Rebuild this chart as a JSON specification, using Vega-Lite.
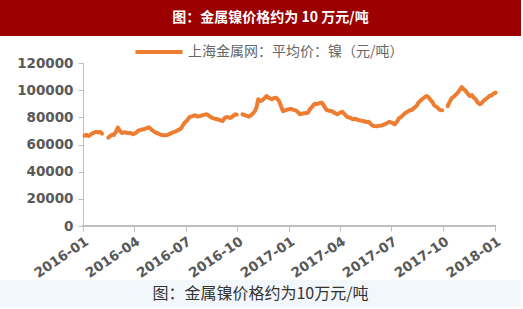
{
  "$schema": "https://vega.github.io/schema/vega-lite/v6.json",
  "background": "white",
  "padding": 0,
  "spacing": 0,
  "resolve": {"legend": {"color": "independent"}, "scale": {"color": "independent"}},
  "config": {"view": {"stroke": null}},
  "vconcat": [
    {
      "width": 521,
      "height": 36,
      "view": {"fill": "#9c0000", "stroke": null},
      "data": {"values": [{"t": "图：金属镍价格约为 10 万元/吨"}]},
      "mark": {"type": "text", "color": "white", "fontSize": 14, "fontWeight": "bold", "font": "Noto Sans CJK SC", "align": "center", "baseline": "middle", "dx": 10},
      "encoding": {"text": {"field": "t"}}
    },
    {
      "width": 521,
      "height": 163,
      "data": {"values": [
        {"date": "2016-01-04", "price": 66500, "seg": 1},
        {"date": "2016-01-07", "price": 67200, "seg": 1},
        {"date": "2016-01-11", "price": 66300, "seg": 1},
        {"date": "2016-01-14", "price": 67000, "seg": 1},
        {"date": "2016-01-18", "price": 68200, "seg": 1},
        {"date": "2016-01-21", "price": 68800, "seg": 1},
        {"date": "2016-01-25", "price": 69400, "seg": 1},
        {"date": "2016-01-28", "price": 68900, "seg": 1},
        {"date": "2016-02-01", "price": 69200, "seg": 1},
        {"date": "2016-02-04", "price": 68000, "seg": 1},
        {"date": "2016-02-15", "price": 65000, "seg": 2},
        {"date": "2016-02-18", "price": 66200, "seg": 2},
        {"date": "2016-02-22", "price": 67300, "seg": 2},
        {"date": "2016-02-25", "price": 67000, "seg": 2},
        {"date": "2016-02-29", "price": 69800, "seg": 2},
        {"date": "2016-03-03", "price": 72400, "seg": 2},
        {"date": "2016-03-07", "price": 69800, "seg": 2},
        {"date": "2016-03-10", "price": 68500, "seg": 2},
        {"date": "2016-03-15", "price": 69000, "seg": 2},
        {"date": "2016-03-18", "price": 68700, "seg": 2},
        {"date": "2016-03-22", "price": 68200, "seg": 2},
        {"date": "2016-03-25", "price": 68600, "seg": 2},
        {"date": "2016-03-30", "price": 67500, "seg": 2},
        {"date": "2016-04-05", "price": 68800, "seg": 2},
        {"date": "2016-04-08", "price": 70200, "seg": 2},
        {"date": "2016-04-13", "price": 70800, "seg": 2},
        {"date": "2016-04-18", "price": 71200, "seg": 2},
        {"date": "2016-04-22", "price": 71800, "seg": 2},
        {"date": "2016-04-27", "price": 72600, "seg": 2},
        {"date": "2016-04-29", "price": 72000, "seg": 2},
        {"date": "2016-05-04", "price": 70200, "seg": 2},
        {"date": "2016-05-09", "price": 68800, "seg": 2},
        {"date": "2016-05-13", "price": 68200, "seg": 2},
        {"date": "2016-05-18", "price": 67200, "seg": 2},
        {"date": "2016-05-24", "price": 66800, "seg": 2},
        {"date": "2016-05-30", "price": 67000, "seg": 2},
        {"date": "2016-06-03", "price": 67800, "seg": 2},
        {"date": "2016-06-08", "price": 68700, "seg": 2},
        {"date": "2016-06-13", "price": 69600, "seg": 2},
        {"date": "2016-06-17", "price": 70400, "seg": 2},
        {"date": "2016-06-22", "price": 71500, "seg": 2},
        {"date": "2016-06-24", "price": 72400, "seg": 2},
        {"date": "2016-06-29", "price": 75800, "seg": 2},
        {"date": "2016-07-04", "price": 77800, "seg": 2},
        {"date": "2016-07-08", "price": 80200, "seg": 2},
        {"date": "2016-07-13", "price": 80800, "seg": 2},
        {"date": "2016-07-18", "price": 81600, "seg": 2},
        {"date": "2016-07-22", "price": 80600, "seg": 2},
        {"date": "2016-07-28", "price": 81000, "seg": 2},
        {"date": "2016-08-02", "price": 81800, "seg": 2},
        {"date": "2016-08-08", "price": 82200, "seg": 2},
        {"date": "2016-08-12", "price": 81000, "seg": 2},
        {"date": "2016-08-17", "price": 79600, "seg": 2},
        {"date": "2016-08-22", "price": 79000, "seg": 2},
        {"date": "2016-08-26", "price": 78600, "seg": 2},
        {"date": "2016-08-31", "price": 78000, "seg": 2},
        {"date": "2016-09-05", "price": 77300, "seg": 2},
        {"date": "2016-09-09", "price": 79800, "seg": 2},
        {"date": "2016-09-13", "price": 80200, "seg": 2},
        {"date": "2016-09-18", "price": 79600, "seg": 2},
        {"date": "2016-09-22", "price": 80500, "seg": 2},
        {"date": "2016-09-27", "price": 82200, "seg": 2},
        {"date": "2016-09-30", "price": 82000, "seg": 2},
        {"date": "2016-10-10", "price": 82200, "seg": 3},
        {"date": "2016-10-14", "price": 81600, "seg": 3},
        {"date": "2016-10-18", "price": 81000, "seg": 3},
        {"date": "2016-10-21", "price": 80500, "seg": 3},
        {"date": "2016-10-25", "price": 81500, "seg": 3},
        {"date": "2016-10-28", "price": 82600, "seg": 3},
        {"date": "2016-11-01", "price": 84500, "seg": 3},
        {"date": "2016-11-04", "price": 87500, "seg": 3},
        {"date": "2016-11-07", "price": 93300, "seg": 3},
        {"date": "2016-11-10", "price": 92000, "seg": 3},
        {"date": "2016-11-14", "price": 92500, "seg": 3},
        {"date": "2016-11-18", "price": 94000, "seg": 3},
        {"date": "2016-11-22", "price": 95700, "seg": 3},
        {"date": "2016-11-25", "price": 94500, "seg": 3},
        {"date": "2016-11-29", "price": 93800, "seg": 3},
        {"date": "2016-12-01", "price": 93300, "seg": 3},
        {"date": "2016-12-05", "price": 94200, "seg": 3},
        {"date": "2016-12-09", "price": 94400, "seg": 3},
        {"date": "2016-12-13", "price": 92500, "seg": 3},
        {"date": "2016-12-15", "price": 90800, "seg": 3},
        {"date": "2016-12-19", "price": 86500, "seg": 3},
        {"date": "2016-12-21", "price": 84600, "seg": 3},
        {"date": "2016-12-26", "price": 85300, "seg": 3},
        {"date": "2016-12-30", "price": 85900, "seg": 3},
        {"date": "2017-01-04", "price": 86200, "seg": 3},
        {"date": "2017-01-09", "price": 85500, "seg": 3},
        {"date": "2017-01-13", "price": 85000, "seg": 3},
        {"date": "2017-01-17", "price": 83600, "seg": 3},
        {"date": "2017-01-20", "price": 82200, "seg": 3},
        {"date": "2017-01-25", "price": 82800, "seg": 3},
        {"date": "2017-02-03", "price": 83400, "seg": 3},
        {"date": "2017-02-07", "price": 86200, "seg": 3},
        {"date": "2017-02-10", "price": 87500, "seg": 3},
        {"date": "2017-02-15", "price": 90000, "seg": 3},
        {"date": "2017-02-20", "price": 89800, "seg": 3},
        {"date": "2017-02-24", "price": 90600, "seg": 3},
        {"date": "2017-02-28", "price": 90800, "seg": 3},
        {"date": "2017-03-03", "price": 88800, "seg": 3},
        {"date": "2017-03-08", "price": 85500, "seg": 3},
        {"date": "2017-03-13", "price": 84800, "seg": 3},
        {"date": "2017-03-17", "price": 84600, "seg": 3},
        {"date": "2017-03-22", "price": 83400, "seg": 3},
        {"date": "2017-03-27", "price": 82200, "seg": 3},
        {"date": "2017-03-31", "price": 83200, "seg": 3},
        {"date": "2017-04-05", "price": 84100, "seg": 3},
        {"date": "2017-04-10", "price": 82000, "seg": 3},
        {"date": "2017-04-14", "price": 80200, "seg": 3},
        {"date": "2017-04-19", "price": 79700, "seg": 3},
        {"date": "2017-04-24", "price": 78500, "seg": 3},
        {"date": "2017-04-28", "price": 79000, "seg": 3},
        {"date": "2017-05-03", "price": 78000, "seg": 3},
        {"date": "2017-05-08", "price": 77600, "seg": 3},
        {"date": "2017-05-12", "price": 77300, "seg": 3},
        {"date": "2017-05-17", "price": 76600, "seg": 3},
        {"date": "2017-05-22", "price": 76800, "seg": 3},
        {"date": "2017-05-26", "price": 74800, "seg": 3},
        {"date": "2017-05-31", "price": 73600, "seg": 3},
        {"date": "2017-06-05", "price": 73400, "seg": 3},
        {"date": "2017-06-09", "price": 73700, "seg": 3},
        {"date": "2017-06-14", "price": 74000, "seg": 3},
        {"date": "2017-06-19", "price": 74800, "seg": 3},
        {"date": "2017-06-23", "price": 75600, "seg": 3},
        {"date": "2017-06-28", "price": 76800, "seg": 3},
        {"date": "2017-07-03", "price": 75800, "seg": 3},
        {"date": "2017-07-07", "price": 74800, "seg": 3},
        {"date": "2017-07-11", "price": 76800, "seg": 3},
        {"date": "2017-07-14", "price": 79000, "seg": 3},
        {"date": "2017-07-19", "price": 80500, "seg": 3},
        {"date": "2017-07-24", "price": 82600, "seg": 3},
        {"date": "2017-07-28", "price": 83800, "seg": 3},
        {"date": "2017-08-02", "price": 85000, "seg": 3},
        {"date": "2017-08-07", "price": 85600, "seg": 3},
        {"date": "2017-08-11", "price": 87200, "seg": 3},
        {"date": "2017-08-15", "price": 88500, "seg": 3},
        {"date": "2017-08-18", "price": 90800, "seg": 3},
        {"date": "2017-08-23", "price": 92800, "seg": 3},
        {"date": "2017-08-28", "price": 94400, "seg": 3},
        {"date": "2017-09-01", "price": 95700, "seg": 3},
        {"date": "2017-09-05", "price": 94800, "seg": 3},
        {"date": "2017-09-08", "price": 93000, "seg": 3},
        {"date": "2017-09-12", "price": 91200, "seg": 3},
        {"date": "2017-09-15", "price": 88800, "seg": 3},
        {"date": "2017-09-20", "price": 87500, "seg": 3},
        {"date": "2017-09-25", "price": 85500, "seg": 3},
        {"date": "2017-09-29", "price": 85200, "seg": 3},
        {"date": "2017-10-09", "price": 88300, "seg": 4},
        {"date": "2017-10-12", "price": 91000, "seg": 4},
        {"date": "2017-10-16", "price": 94000, "seg": 4},
        {"date": "2017-10-20", "price": 95400, "seg": 4},
        {"date": "2017-10-24", "price": 96900, "seg": 4},
        {"date": "2017-10-27", "price": 98200, "seg": 4},
        {"date": "2017-10-31", "price": 100600, "seg": 4},
        {"date": "2017-11-03", "price": 102300, "seg": 4},
        {"date": "2017-11-07", "price": 100500, "seg": 4},
        {"date": "2017-11-10", "price": 99400, "seg": 4},
        {"date": "2017-11-14", "price": 97200, "seg": 4},
        {"date": "2017-11-17", "price": 95700, "seg": 4},
        {"date": "2017-11-21", "price": 96400, "seg": 4},
        {"date": "2017-11-24", "price": 94600, "seg": 4},
        {"date": "2017-11-28", "price": 93200, "seg": 4},
        {"date": "2017-12-01", "price": 91000, "seg": 4},
        {"date": "2017-12-05", "price": 89600, "seg": 4},
        {"date": "2017-12-08", "price": 90400, "seg": 4},
        {"date": "2017-12-12", "price": 92300, "seg": 4},
        {"date": "2017-12-15", "price": 93300, "seg": 4},
        {"date": "2017-12-19", "price": 94600, "seg": 4},
        {"date": "2017-12-22", "price": 95700, "seg": 4},
        {"date": "2017-12-27", "price": 96400, "seg": 4},
        {"date": "2017-12-29", "price": 97500, "seg": 4},
        {"date": "2018-01-02", "price": 98100, "seg": 4}
      ]},
      "transform": [{"calculate": "'上海金属网：平均价：镍（元/吨）'", "as": "series"}],
      "encoding": {
        "x": {
          "field": "date", "type": "temporal",
          "scale": {"type": "utc", "domain": [{"year": 2015, "month": 8, "date": 7, "utc": true}, {"year": 2018, "month": 2, "date": 16, "utc": true}]},
          "axis": {
            "title": null,
            "domain": false,
            "values": [
              {"year": 2016, "month": 1, "date": 1, "utc": true},
              {"year": 2016, "month": 4, "date": 1, "utc": true},
              {"year": 2016, "month": 7, "date": 1, "utc": true},
              {"year": 2016, "month": 10, "date": 1, "utc": true},
              {"year": 2017, "month": 1, "date": 1, "utc": true},
              {"year": 2017, "month": 4, "date": 1, "utc": true},
              {"year": 2017, "month": 7, "date": 1, "utc": true},
              {"year": 2017, "month": 10, "date": 1, "utc": true},
              {"year": 2018, "month": 1, "date": 1, "utc": true}
            ],
            "format": "%Y-%m",
            "labelAngle": -34,
            "labelFont": "DejaVu Sans",
            "labelFontWeight": "bold",
            "labelFontSize": 13.5,
            "labelColor": "#595959",
            "labelPadding": 3,
            "labelOverlap": false,
            "labelFlush": false,
            "tickSize": 5,
            "tickColor": "#bfbfbf",
            "grid": false
          }
        },
        "y": {
          "field": "price", "type": "quantitative",
          "scale": {"domain": [0, 120000]},
          "axis": {
            "title": null,
            "offset": -83,
            "values": [0, 20000, 40000, 60000, 80000, 100000, 120000],
            "format": "d",
            "labelFont": "DejaVu Sans",
            "labelFontWeight": "bold",
            "labelFontSize": 13.5,
            "labelColor": "#595959",
            "labelPadding": 5,
            "tickSize": 5,
            "tickColor": "#bfbfbf",
            "domainColor": "#bfbfbf",
            "grid": false
          }
        }
      },
      "layer": [
        {
          "mark": {"type": "rule", "color": "#bfbfbf", "strokeWidth": 1},
          "encoding": {
            "x": {"datum": {"year": 2016, "month": 1, "date": 1, "utc": true}, "type": "temporal"},
            "x2": {"datum": {"year": 2018, "month": 1, "date": 1, "utc": true}},
            "y": {"datum": 0, "type": "quantitative"}
          }
        },
        {
          "mark": {"type": "line", "strokeWidth": 4, "strokeJoin": "round", "strokeCap": "round"},
          "encoding": {
            "color": {
              "field": "series", "type": "nominal",
              "scale": {"range": ["#ED7D31"]},
              "legend": {
                "title": null,
                "orient": "none",
                "legendX": 143,
                "legendY": -27,
                "padding": 4,
                "symbolType": "M-2.35,0H2.35",
                "symbolSize": 400,
                "symbolStrokeWidth": 4,
                "labelFont": "Noto Sans CJK SC",
                "labelFontSize": 14,
                "labelColor": "#666666",
                "labelOffset": 17,
                "labelLimit": 400
              }
            },
            "detail": {"field": "seg", "type": "nominal"}
          }
        }
      ]
    },
    {
      "width": 521,
      "height": 27,
      "view": {"fill": "#f2f7fb", "stroke": null},
      "data": {"values": [{"t": "图：金属镍价格约为10万元/吨"}]},
      "mark": {"type": "text", "color": "#333333", "fontSize": 16, "font": "Noto Sans CJK SC", "align": "center", "baseline": "middle"},
      "encoding": {"text": {"field": "t"}}
    }
  ]
}
